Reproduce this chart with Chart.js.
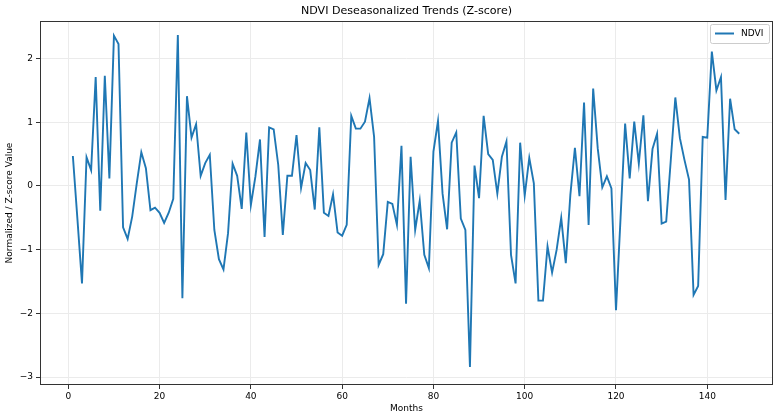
<!DOCTYPE html>
<html>
<head>
<meta charset="utf-8">
<script src="https://cdn.jsdelivr.net/npm/chart.js@4/dist/chart.umd.min.js"></script>
<style>
  html, body { margin: 0; padding: 0; background: #fff; }
  #wrap { width: 780px; height: 417px; position: relative; }
</style>
</head>
<body>
<div id="wrap"><canvas id="chart" width="780" height="417"></canvas></div>
<script>
// Chart data
const chartTitle = 'NDVI Deseasonalized Trends (Z-score)';
const xLabel = 'Months';
const yLabel = 'Normalized / Z-score Value';
const seriesName = 'NDVI';
const firstMonth = 1;
const xTicks = [0, 20, 40, 60, 80, 100, 120, 140];
const yTicks = [-3, -2, -1, 0, 1, 2];
const ndvi = [
    0.47, -0.52, -1.53, 0.45, 0.25, 1.71, -0.39, 1.73, 0.12, 2.36,
    2.23, -0.65, -0.83, -0.48, 0.04, 0.53, 0.28, -0.38, -0.34, -0.42,
    -0.58, -0.42, -0.20, 2.37, -1.76, 1.41, 0.76, 0.97, 0.16, 0.36,
    0.49, -0.69, -1.15, -1.31, -0.74, 0.35, 0.16, -0.36, 0.84, -0.30,
    0.15, 0.73, -0.80, 0.92, 0.89, 0.33, -0.77, 0.16, 0.16, 0.80,
    -0.03, 0.36, 0.25, -0.37, 0.92, -0.42, -0.47, -0.13, -0.73, -0.78,
    -0.61, 1.10, 0.90, 0.90, 1.01, 1.38, 0.77, -1.24, -1.07, -0.25,
    -0.28, -0.61, 0.63, -1.85, 0.46, -0.69, -0.23, -1.08, -1.29, 0.54,
    1.02, -0.12, -0.68, 0.68, 0.84, -0.51, -0.69, -2.84, 0.32, -0.19,
    1.10, 0.50, 0.41, -0.12, 0.46, 0.70, -1.08, -1.53, 0.68, -0.15,
    0.44, 0.04, -1.80, -1.80, -0.95, -1.36, -1.00, -0.50, -1.21, -0.14,
    0.60, -0.16, 1.31, -0.61, 1.53, 0.59, -0.02, 0.15, -0.04, -1.95,
    -0.50, 0.98, 0.12, 1.01, 0.35, 1.11, -0.24, 0.58, 0.82, -0.59,
    -0.56, 0.40, 1.39, 0.75, 0.41, 0.10, -1.71, -1.57, 0.77, 0.76,
    2.11, 1.50, 1.71, -0.22, 1.37, 0.89, 0.82
];

const lineColor = '#1f77b4';
const fontFamily = '"DejaVu Sans", sans-serif';

// Points: month number is first month plus position in the list
const points = ndvi.map((v, i) => ({ x: firstMonth + i, y: v }));

// Draws frame, title, axis titles and legend the way matplotlib does
const decorations = {
    id: 'decorations',
    afterDraw(chart) {
        const ctx = chart.ctx;
        const a = chart.chartArea;
        ctx.save();

        // frame on all four sides
        ctx.strokeStyle = '#333';
        ctx.lineWidth = 1;
        ctx.strokeRect(a.left + 0.5, a.top + 0.5, a.right - a.left - 1, a.bottom - a.top - 1);

        // title
        ctx.fillStyle = '#000';
        ctx.textAlign = 'center';
        ctx.textBaseline = 'middle';
        ctx.font = '11.1px ' + fontFamily;
        ctx.fillText(chartTitle, (a.left + a.right) / 2, 11);

        // axis titles
        ctx.font = '9px ' + fontFamily;
        ctx.fillText(xLabel, (a.left + a.right) / 2, 409);
        ctx.save();
        ctx.translate(10, (a.top + a.bottom) / 2);
        ctx.rotate(-Math.PI / 2);
        ctx.fillText(yLabel, 0, 0);
        ctx.restore();

        // legend
        const bx = 710, by = 24, bw = 59, bh = 19;
        ctx.fillStyle = 'rgba(255,255,255,0.8)';
        ctx.strokeStyle = '#cccccc';
        ctx.lineWidth = 1;
        ctx.beginPath();
        ctx.roundRect(bx + 0.5, by + 0.5, bw, bh, 2);
        ctx.fill();
        ctx.stroke();
        ctx.strokeStyle = lineColor;
        ctx.lineWidth = 2;
        ctx.beginPath();
        ctx.moveTo(715, 33.5);
        ctx.lineTo(734, 33.5);
        ctx.stroke();
        ctx.fillStyle = '#000';
        ctx.textAlign = 'left';
        ctx.font = '9px ' + fontFamily;
        ctx.fillText(chart.data.datasets[0].label, 741, 34);

        ctx.restore();
    }
};

const chart = new Chart(document.getElementById('chart'), {
    type: 'line',
    data: {
        datasets: [{
            label: seriesName,
            data: points,
            borderColor: lineColor,
            borderWidth: 1.9,
            pointRadius: 0,
            tension: 0,
            fill: false
        }]
    },
    options: {
        responsive: false,
        animation: false,
        layout: { padding: { left: 0, right: 7, top: 21, bottom: 0 } },
        plugins: {
            legend: { display: false },
            title: { display: false },
            tooltip: { enabled: false }
        },
        scales: {
            x: {
                type: 'linear',
                min: -6.2,
                max: 154.4,
                afterBuildTicks: axis => { axis.ticks = xTicks.map(v => ({ value: v })); },
                afterFit: axis => { axis.height = 32; },
                border: { display: false },
                grid: { color: '#ebebeb', lineWidth: 1, tickColor: '#333', tickLength: 4 },
                ticks: {
                    color: '#000',
                    padding: 2,
                    maxRotation: 0,
                    font: { family: fontFamily, size: 9 },
                    callback: v => String(v)
                }
            },
            y: {
                min: -3.124,
                max: 2.59,
                afterBuildTicks: axis => { axis.ticks = yTicks.map(v => ({ value: v })); },
                afterFit: axis => { axis.width = 40; },
                border: { display: false },
                grid: { color: '#ebebeb', lineWidth: 1, tickColor: '#333', tickLength: 4 },
                ticks: {
                    color: '#000',
                    padding: 3,
                    font: { family: fontFamily, size: 9 },
                    callback: v => String(v).replace('-', '\u2212')
                }
            }
        }
    },
    plugins: [decorations]
});
</script>
</body>
</html>
